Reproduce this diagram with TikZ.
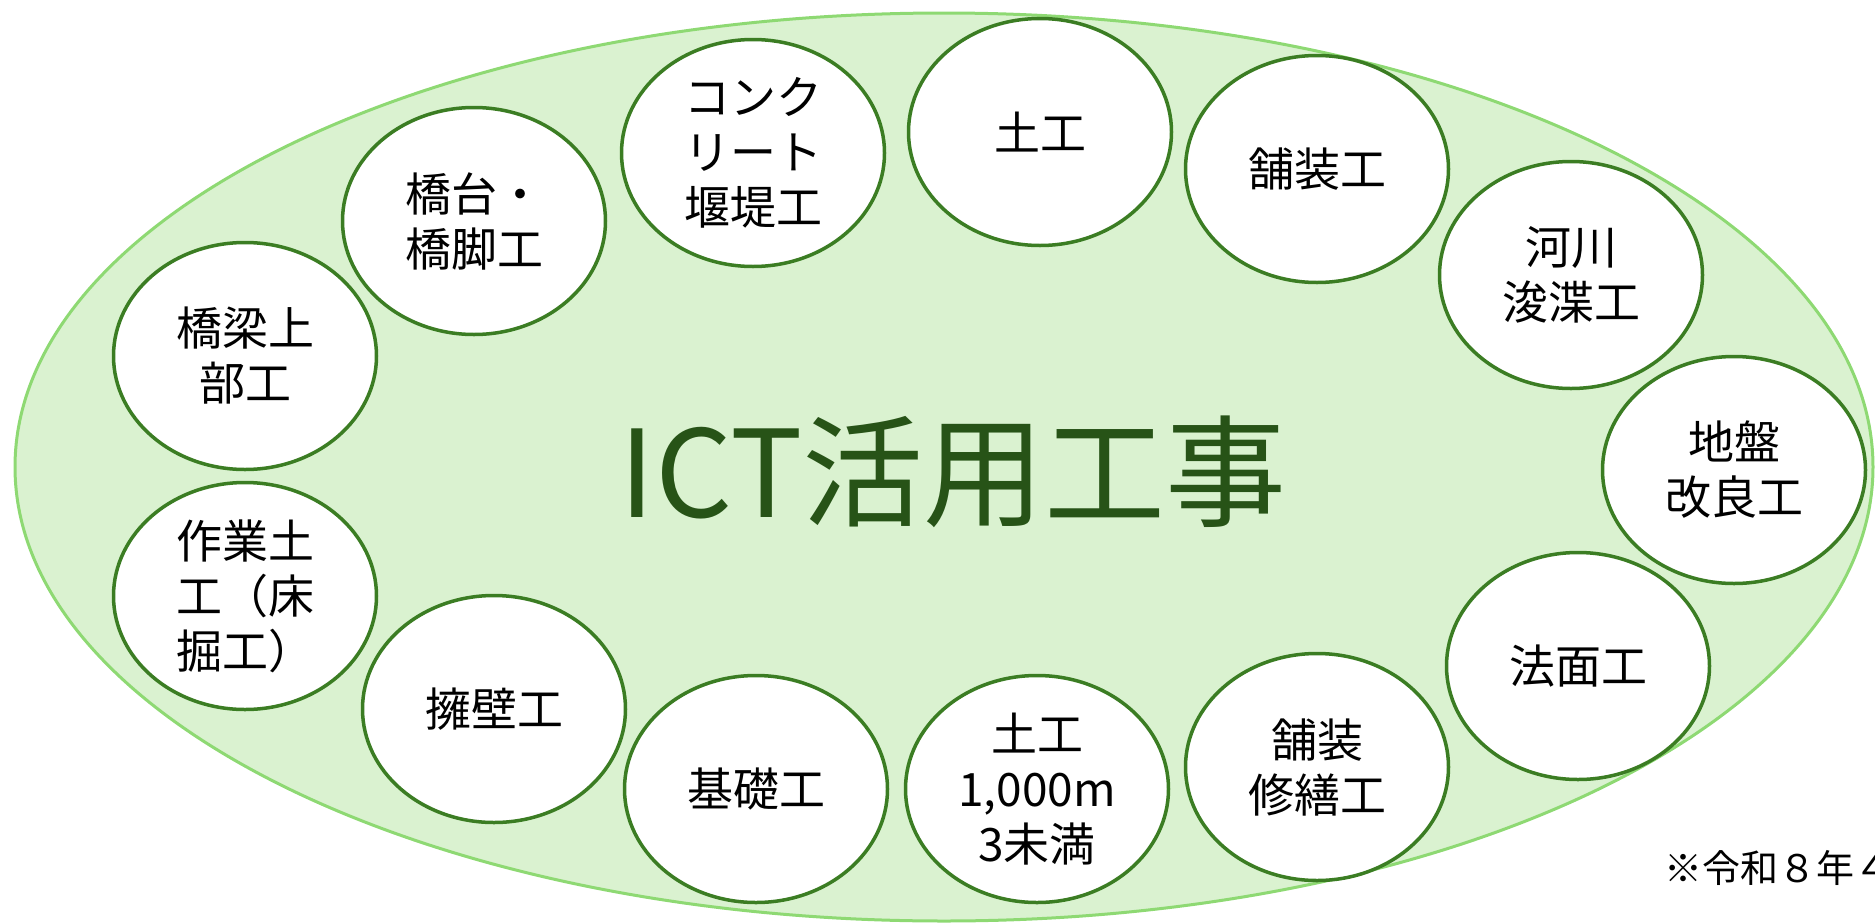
\documentclass[tikz,border=0pt]{standalone}
\usepackage{fontspec}
\setmainfont{Noto Sans CJK JP}
\usetikzlibrary{shapes.geometric}
\definecolor{bigfill}{HTML}{DAF2D0}
\definecolor{bigline}{HTML}{8ED973}
\definecolor{smallline}{HTML}{3B7D23}
\definecolor{titlegreen}{HTML}{275317}
\begin{document}
\begin{tikzpicture}[x=1pt,y=-1pt,
  item/.style={ellipse, draw=smallline, line width=3.5pt, fill=white,
    minimum width=263pt, minimum height=227pt, inner sep=0pt, align=center,
    font=\fontsize{46}{55}\selectfont},
  outer/.style={ellipse, draw=bigline, fill=bigfill, line width=3pt,
    minimum width=1858pt, minimum height=908pt, inner sep=0pt},
  titletext/.style={text=titlegreen, font=\fontsize{121}{121}\selectfont, inner sep=0pt},
  notetext/.style={anchor=west, inner sep=0pt, font=\fontsize{38}{38}\selectfont}
]
\useasboundingbox (0,0) rectangle (1875,924);
\clip (0,0) rectangle (1875,924);
\node[outer] (big) at (944,467) {};
\node[titletext] (title) at (953,472) {ICT活用工事};
\node[item] (doko) at (1040,132) {土工};
\node[item] (conc) at (753,153) {コンク\\リート\\堰堤工};
\node[item] (kyodai) at (474,221) {橋台・\\橋脚工};
\node[item] (kyoryo) at (245,356) {橋梁上\\部工};
\node[item] (sagyo) at (245,596) {作業土\\工（床\\掘工）};
\node[item] (yoheki) at (494,709) {擁壁工};
\node[item] (kiso) at (756,789) {基礎工};
\node[item] (doko2) at (1037,789) {土工\\1,000m\\3未満};
\node[item] (hoshu) at (1317,767) {舗装\\修繕工};
\node[item] (norimen) at (1578,666) {法面工};
\node[item] (jiban) at (1734,470) {地盤\\改良工};
\node[item] (kasen) at (1571,275) {河川\\浚渫工};
\node[item] (hoso) at (1317,169) {舗装工};
\node[notetext] (note) at (1664,868) {※令和８年４};
\end{tikzpicture}
\end{document}
